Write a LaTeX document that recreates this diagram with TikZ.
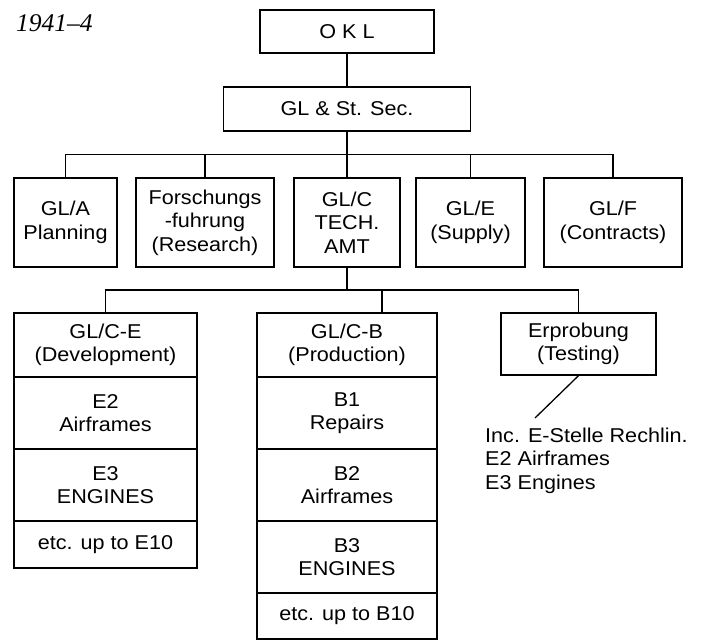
\documentclass[tikz,border=0pt]{standalone}
\usepackage{fontspec}
\setmainfont[FakeStretch=1.08]{Liberation Sans}
\newfontfamily\yearfont{Liberation Serif}
\begin{document}
\begin{tikzpicture}[x=1pt,y=-1pt,
  box/.style={draw, line width=1.3pt, inner sep=0pt, align=center,
    font=\fontsize{20pt}{23.5pt}\selectfont},
  conn/.style={line width=1.3pt},
  plain/.style={inner sep=0pt, align=left, font=\fontsize{20pt}{23.5pt}\selectfont}]
\useasboundingbox (0,0) rectangle (706,640);
% title
\node[anchor=base west, inner sep=0pt, font=\yearfont\itshape\fontsize{25.5pt}{28pt}\selectfont] (year) at (16,31.5) {1941–4};
% top
\node[box, minimum width=174pt, minimum height=43pt] (okl) at (347,31.5) {O K L};
\node[box, minimum width=247pt, minimum height=44pt] (gl) at (347,109) {GL \& St. Sec.};
% row 2
\node[box, minimum width=103pt, minimum height=89pt] (gla) at (65.5,222.5) {GL/A\\Planning};
\node[box, minimum width=138pt, minimum height=89pt] (fo) at (205,222.5) {Forschungs\\-fuhrung\\(Research)};
\node[box, minimum width=106pt, minimum height=89pt] (glc) at (347,222.5) {GL/C\\TECH.\\AMT};
\node[box, minimum width=109pt, minimum height=89pt] (gle) at (470.5,222.5) {GL/E\\(Supply)};
\node[box, minimum width=138pt, minimum height=89pt] (glf) at (613,222.5) {GL/F\\(Contracts)};
% row 3: development
\node[box, minimum width=183pt, minimum height=64pt] (ce1) at (105.5,345) {GL/C-E\\(Development)};
\node[box, minimum width=183pt, minimum height=72pt] (ce2) at (105.5,413) {E2\\Airframes};
\node[box, minimum width=183pt, minimum height=72pt] (ce3) at (105.5,485) {E3\\ENGINES};
\node[box, minimum width=183pt, minimum height=47pt] (ce4) at (105.5,544.5) {etc. up to E10};
% row 3: production
\node[box, minimum width=180pt, minimum height=64pt] (cb1) at (347,345) {GL/C-B\\(Production)};
\node[box, minimum width=180pt, minimum height=72pt] (cb2) at (347,413) {B1\\Repairs};
\node[box, minimum width=180pt, minimum height=72pt] (cb3) at (347,485) {B2\\Airframes};
\node[box, minimum width=180pt, minimum height=72pt] (cb4) at (347,557) {B3\\ENGINES};
\node[box, minimum width=180pt, minimum height=46pt] (cb5) at (347,616) {etc. up to B10};
% testing
\node[box, minimum width=155pt, minimum height=62pt] (erp) at (578.5,344) {Erprobung\\(Testing)};
\node[plain, anchor=north west] (inc) at (485,427.5) {Inc. E-Stelle Rechlin.\\E2 Airframes\\E3 Engines};
% connectors
\coordinate (bus1) at (347,154.5);
\coordinate (bus2) at (347,290);
\coordinate (bdrop) at (382,290);
\coordinate (diag) at (535,418);
\draw[conn] (okl.south) -- (gl.north);
\draw[conn] (gl.south) -- (glc.north);
\draw[conn] (gla.north) -- (gla.north |- bus1) -- (glf.north |- bus1) -- (glf.north);
\draw[conn] (fo.north) -- (fo.north |- bus1);
\draw[conn] (gle.north) -- (gle.north |- bus1);
\draw[conn] (glc.south) -- (bus2);
\draw[conn] (ce1.north) -- (ce1.north |- bus2) -- (erp.north |- bus2) -- (erp.north);
\draw[conn] (bdrop) -- (bdrop |- cb1.north);
\draw[conn] (erp.south) -- (diag);
\end{tikzpicture}
\end{document}
